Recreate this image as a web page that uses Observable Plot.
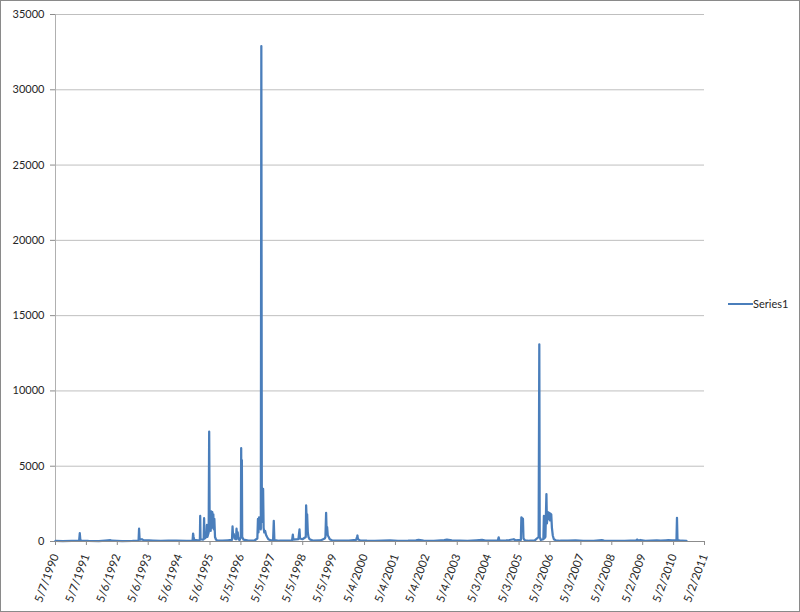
<!DOCTYPE html>
<html>
<head>
<meta charset="utf-8">
<script src="https://cdn.jsdelivr.net/npm/d3@7"></script>
<script src="https://cdn.jsdelivr.net/npm/@observablehq/plot@0.6"></script>
<style>
  html, body { margin: 0; padding: 0; background: #fff; }
  #wrap { position: relative; width: 800px; height: 612px; overflow: hidden; font-family: Lato, "DejaVu Sans", sans-serif; }
  #frame { position: absolute; left: 0; top: 0; width: 800px; height: 612px; box-sizing: border-box; border: 1px solid #8a8a8a; pointer-events: none; }
  #legend { position: absolute; left: 728px; top: 297px; display: flex; align-items: center; font-size: 11px; color: #262626; }
  #legend .sw { width: 25px; height: 0; border-top: 2.5px solid #4A7EBB; margin-right: 0px; }
</style>
</head>
<body>
<div id="wrap">
  <div id="chart"></div>
  <div id="legend"><div class="sw"></div><span id="legend-label"></span></div>
  <div id="frame"></div>
</div>
<script>
// ---- Data ----
const seriesName = "Series1";

const tickLabels = ["5/7/1990","5/7/1991","5/6/1992","5/6/1993","5/6/1994","5/6/1995","5/5/1996","5/5/1997","5/5/1998","5/5/1999","5/4/2000","5/4/2001","5/4/2002","5/4/2003","5/3/2004","5/3/2005","5/3/2006","5/3/2007","5/2/2008","5/2/2009","5/2/2010","5/2/2011"];

const yTicks = [0, 5000, 10000, 15000, 20000, 25000, 30000, 35000];

const dates = [
"1990-05-07","1990-08-01","1990-11-15","1991-02-10","1991-02-18","1991-02-24","1991-03-05","1991-06-01","1991-10-01","1991-12-15",
"1992-02-15","1992-03-01","1992-07-01","1992-11-01","1993-01-12","1993-01-18","1993-01-24","1993-02-05","1993-02-20","1993-03-10",
"1993-04-01","1993-05-15","1993-07-01","1993-10-01","1994-01-01","1994-04-01","1994-08-01","1994-10-12","1994-10-18","1994-10-24",
"1994-11-01","1994-12-15","1995-01-06","1995-01-10","1995-01-14","1995-02-10","1995-02-20","1995-02-25","1995-03-02","1995-03-25",
"1995-03-30","1995-04-05","1995-04-20","1995-04-26","1995-05-02","1995-05-08","1995-05-14","1995-05-20","1995-05-26","1995-06-02",
"1995-06-08","1995-06-14","1995-06-20","1995-06-26","1995-07-04","1995-07-14","1995-07-24","1995-10-01","1995-12-01","1996-01-20",
"1996-01-27","1996-02-02","1996-02-10","1996-02-20","1996-03-08","1996-03-14","1996-03-20","1996-03-28","1996-04-05","1996-04-20",
"1996-05-04","1996-05-08","1996-05-12","1996-05-16","1996-05-20","1996-06-05","1996-08-01","1996-10-15","1996-11-15","1996-11-22",
"1996-11-28","1996-12-05","1996-12-12","1996-12-20","1996-12-26","1997-01-01","1997-01-07","1997-01-14","1997-01-22","1997-01-28",
"1997-02-05","1997-02-15","1997-02-25","1997-03-10","1997-03-25","1997-04-20","1997-05-20","1997-05-28","1997-06-04","1997-08-01",
"1997-11-01","1997-12-30","1998-01-08","1998-01-14","1998-03-15","1998-03-28","1998-04-03","1998-05-01","1998-06-10","1998-06-14",
"1998-06-20","1998-06-26","1998-07-04","1998-07-12","1998-07-25","1998-09-01","1998-12-01","1999-01-20","1999-01-28","1999-02-05",
"1999-02-11","1999-02-17","1999-02-25","1999-03-08","1999-03-20","1999-04-15","1999-07-01","1999-11-01","2000-01-25","2000-02-05",
"2000-02-10","2000-02-16","2000-03-10","2000-06-01","2000-09-01","2000-12-01","2001-03-01","2001-06-01","2001-10-01","2002-01-01",
"2002-02-01","2002-04-01","2002-08-01","2002-12-01","2003-01-01","2003-03-01","2003-06-01","2003-09-01","2003-12-15","2004-02-20",
"2004-04-01","2004-08-25","2004-09-04","2004-09-12","2004-12-01","2005-01-10","2005-03-01","2005-03-20","2005-05-24","2005-05-30",
"2005-06-08","2005-06-18","2005-06-24","2005-07-10","2005-09-01","2005-11-01","2005-12-20","2005-12-28","2006-01-02","2006-01-15",
"2006-02-14","2006-02-20","2006-02-26","2006-03-10","2006-03-22","2006-03-28","2006-04-08","2006-04-16","2006-04-24","2006-05-02",
"2006-05-10","2006-05-18","2006-05-26","2006-06-05","2006-06-18","2006-07-10","2006-09-01","2006-12-01","2007-03-01","2007-06-01",
"2007-10-01","2008-01-05","2008-02-01","2008-06-01","2008-10-01","2009-02-15","2009-02-25","2009-03-10","2009-04-05","2009-06-01",
"2009-10-15","2009-12-01","2010-02-01","2010-03-01","2010-04-15","2010-06-05","2010-06-11","2010-06-17","2010-08-01","2010-10-01"
];

const flows = [
40,30,35,40,550,120,60,35,30,60,
90,50,30,35,60,850,200,120,150,90,
80,70,60,40,60,50,35,60,530,300,
100,80,100,1700,150,120,150,1550,200,300,
1100,300,600,7300,900,1500,700,2000,900,1950,
1100,1800,800,1500,300,150,80,60,80,100,
1000,400,500,200,150,850,400,600,150,100,
300,6200,800,5400,300,120,60,80,200,1500,
600,1600,900,1200,800,32900,1800,1300,3500,900,
600,700,450,300,150,80,80,1370,100,50,
60,80,460,120,150,800,200,150,300,2400,
1500,1800,600,300,150,60,70,200,300,1900,
700,950,400,300,150,80,50,60,100,300,
400,150,80,50,40,60,70,40,50,80,
110,60,40,90,120,70,50,40,80,110,
60,60,280,60,70,100,150,80,100,1600,
1550,1500,200,80,50,60,300,13100,300,100,
150,1700,200,300,3150,1200,1950,1500,1900,1400,
1850,1800,900,400,150,80,50,60,70,40,
40,90,60,40,40,80,130,60,100,40,
70,60,80,90,70,100,1570,100,50,40
];

// ---- Build table ----
const parseISO = d3.utcParse("%Y-%m-%d");
const parseTick = d3.utcParse("%m/%d/%Y");
const fmtTick = d3.utcFormat("%-m/%-d/%Y");
const data = dates.map((d, i) => ({date: parseISO(d), flow: flows[i]}));
const tickDates = tickLabels.map(s => parseTick(s));
const xDomain = [tickDates[0], tickDates[tickDates.length - 1]];

const chart = Plot.plot({
  width: 800,
  height: 612,
  marginLeft: 55,
  marginRight: 96,
  marginTop: 14,
  marginBottom: 71,
  style: {fontFamily: "Lato, 'DejaVu Sans', sans-serif", fontSize: "11px", color: "#262626", background: "transparent"},
  x: {type: "utc", domain: xDomain},
  y: {domain: [0, 35000]},
  marks: [
    Plot.gridY(yTicks.filter(v => v > 0), {stroke: "#bfbfbf", strokeOpacity: 1, strokeWidth: 1}),
    Plot.ruleX([xDomain[0]], {stroke: "#b0b0b0", strokeWidth: 1}),
    Plot.axisY(yTicks, {tickSize: 5, tickPadding: 6, tickFormat: d => String(d), stroke: "#8c8c8c", fill: "#262626", label: null}),
    Plot.axisX(tickDates, {tickRotate: -70, tickSize: 4, tickPadding: 9, fontSize: 11.5, tickFormat: fmtTick, stroke: "#8c8c8c", fill: "#262626", label: null}),
    Plot.lineY(data, {x: "date", y: "flow", stroke: "#4A7EBB", strokeWidth: 2.25, strokeLinejoin: "round"}),
    Plot.ruleY([0], {stroke: "#8c8c8c", strokeWidth: 1})
  ]
});
document.getElementById("chart").appendChild(chart);
document.getElementById("legend-label").textContent = seriesName;
</script>
</body>
</html>
